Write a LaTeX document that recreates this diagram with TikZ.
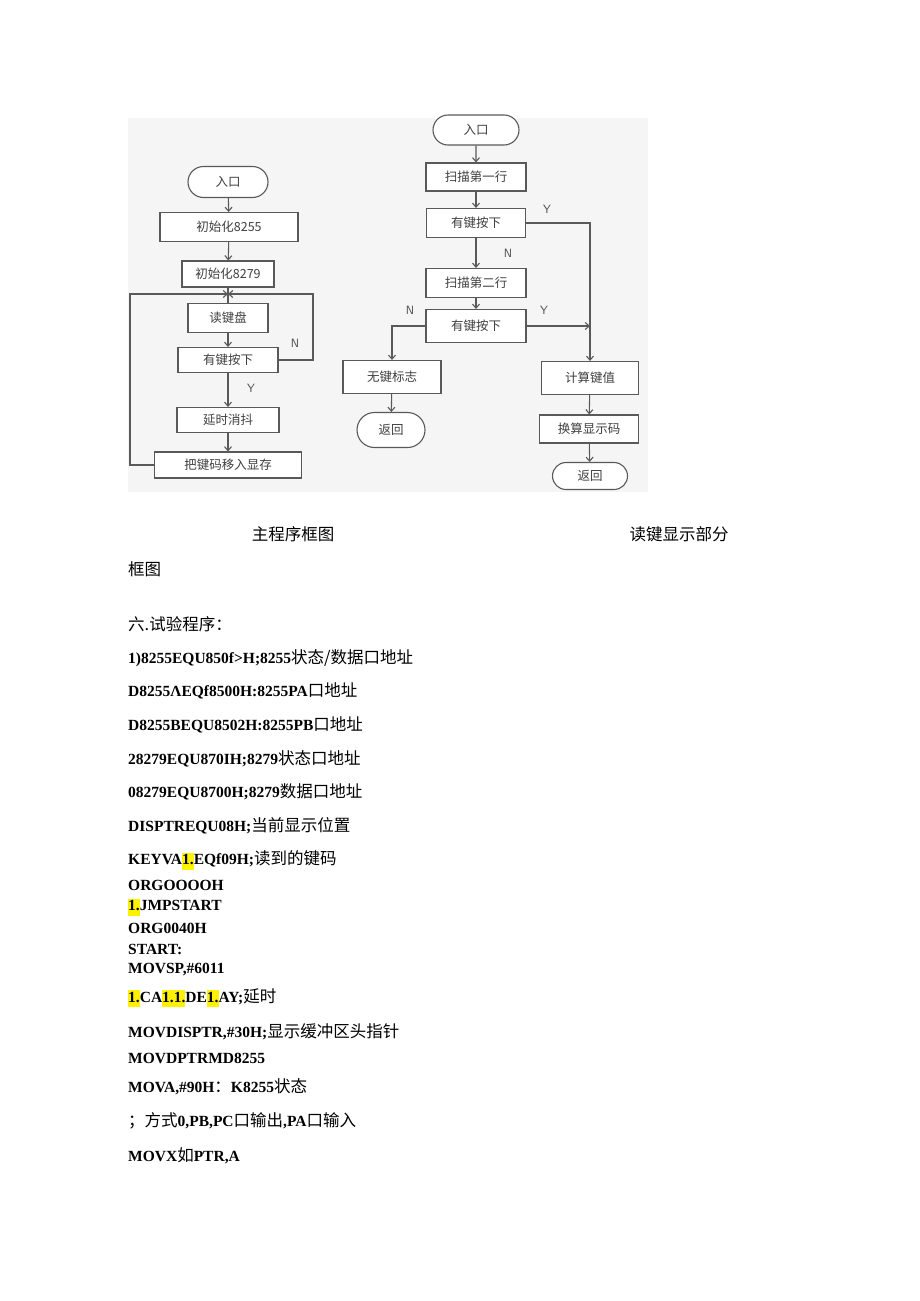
\documentclass[tikz,border=0pt]{standalone}
\usepackage{fontspec}
\setmainfont{Liberation Serif}
\newfontfamily\cjk{Noto Sans CJK SC}
\usetikzlibrary{arrows.meta,shapes.misc}
\newcommand{\hl}[1]{{\setlength{\fboxsep}{0pt}\colorbox{yellow}{\strut #1}}}
\newcommand{\zh}[1]{{\cjk\mdseries\fontsize{16.5}{18}\selectfont #1}}
\begin{document}
\begin{tikzpicture}[x=1pt,y=-1pt,
  fl/.style={draw=black!65,line width=1.1pt,fill=white,font=\cjk\fontsize{12.5}{14}\selectfont,text=black!75,inner sep=0pt},
  term/.style={fl,rounded rectangle},
  ln/.style={draw=black!65,line width=1.1pt},
  ar/.style={ln,-{Straight Barb[length=4pt,width=7pt]}},
  lab/.style={font=\sffamily\fontsize{12}{14}\selectfont,text=black!70},
  tx/.style={anchor=west,inner sep=0pt,font=\bfseries\fontsize{15.5}{17}\selectfont},
  captxt/.style={anchor=base,inner sep=0pt,font=\cjk\fontsize{16.5}{18}\selectfont}]
\useasboundingbox (0,0) rectangle (920,1301);
\fill[black!4] (128,118) rectangle (648,492);
% left chart
\node[term,minimum width=80pt,minimum height=31pt] (l0) at (228,182) {入口};
\node[fl,minimum width=138pt,minimum height=29pt] (l1) at (229,227) {初始化8255};
\node[fl,minimum width=92pt,minimum height=26pt] (l2) at (228,274) {初始化8279};
\coordinate (lt) at (228,294);
\node[fl,minimum width=80pt,minimum height=29pt] (l3) at (228,318) {读键盘};
\node[fl,minimum width=100pt,minimum height=25pt] (l4) at (228,360) {有键按下};
\node[fl,minimum width=102pt,minimum height=25pt] (l5) at (228,420) {延时消抖};
\node[fl,minimum width=147pt,minimum height=26pt] (l6) at (228,465) {把键码移入显存};
\draw[ar] (l0) -- (l1);
\draw[ar] (l1) -- (l2);
\draw[ln] (l2) -- (l3);
\draw[ar] (l3) -- (l4);
\draw[ar] (l4) -- (l5);
\draw[ar] (l5) -- (l6);
\draw[ar] (l4.east) -| (313,294) -- (lt);
\draw[ar] (l6.west) -| (130,294) -- (lt);
\node[lab] at (295,343) {N};
\node[lab] at (251,388) {Y};
% right chart
\node[term,minimum width=86pt,minimum height=30pt] (r0) at (476,130) {入口};
\node[fl,minimum width=100pt,minimum height=28pt] (r1) at (476,177) {扫描第一行};
\node[fl,minimum width=99pt,minimum height=29pt] (r2) at (476,223) {有键按下};
\node[fl,minimum width=100pt,minimum height=29pt] (r3) at (476,283) {扫描第二行};
\node[fl,minimum width=100pt,minimum height=33pt] (r4) at (476,326) {有键按下};
\node[fl,minimum width=98pt,minimum height=33pt] (r5) at (392,377) {无键标志};
\node[term,minimum width=68pt,minimum height=35pt] (r6) at (391,430) {返回};
\node[fl,minimum width=97pt,minimum height=33pt] (r7) at (590,378) {计算键值};
\node[fl,minimum width=99pt,minimum height=28pt] (r8) at (589,429) {换算显示码};
\node[term,minimum width=75pt,minimum height=27pt] (r9) at (590,476) {返回};
\draw[ar] (r0) -- (r1);
\draw[ar] (r1) -- (r2);
\draw[ar] (r2) -- (r3);
\draw[ar] (r3) -- (r4);
\draw[ar] (r4.west) -| (r5.north);
\draw[ar] (r5) -- (r6);
\draw[ar] (r2.east) -| (r7.north);
\draw[ar] (r4.east) -- (r4.east -| r7.north);
\draw[ar] (r7) -- (r8);
\draw[ar] (r8) -- (r9);
\node[lab] at (547,209) {Y};
\node[lab] at (508,253) {N};
\node[lab] at (544,310) {Y};
\node[lab] at (410,310) {N};
% captions
\node[captxt] (c1) at (293,540) {主程序框图};
\node[captxt] (c2) at (679,540) {读键显示部分};
\node[captxt,anchor=base west] (c3) at (128,575) {框图};
\node[captxt,anchor=base west] (c4) at (128,630) {六.试验程序：};
% code
\node[tx] (t1) at (128,658) {1)8255EQU850f>H;8255\zh{状态/数据口地址}};
\node[tx] (t2) at (128,691) {D8255ΛEQf8500H:8255PA\zh{口地址}};
\node[tx] (t3) at (128,725) {D8255BEQU8502H:8255PB\zh{口地址}};
\node[tx] (t4) at (128,759) {28279EQU870IH;8279\zh{状态口地址}};
\node[tx] (t5) at (128,792) {08279EQU8700H;8279\zh{数据口地址}};
\node[tx] (t6) at (128,826) {DISPTREQU08H;\zh{当前显示位置}};
\node[tx] (t7) at (128,860) {KEYVA\hl{1.}EQf09H;\zh{读到的键码}};
\node[tx] (t8) at (128,885) {ORGOOOOH};
\node[tx] (t9) at (128,907) {\hl{1.}JMPSTART};
\node[tx] (t10) at (128,928) {ORG0040H};
\node[tx] (t11) at (128,949) {START:};
\node[tx] (t12) at (128,970) {MOVSP,\#6011};
\node[tx] (t13) at (128,998) {\hl{1.}CA\hl{1.1.}DE\hl{1.}AY;\zh{延时}};
\node[tx] (t14) at (128,1032) {MOVDISPTR,\#30H;\zh{显示缓冲区头指针}};
\node[tx] (t15) at (128,1058) {MOVDPTRMD8255};
\node[tx] (t16) at (128,1087) {MOVA,\#90H\zh{：}K8255\zh{状态}};
\node[tx] (t17) at (128,1121) {\zh{；方式}0,PB,PC\zh{口输出},PA\zh{口输入}};
\node[tx] (t18) at (128,1156) {MOVX\zh{如}PTR,A};
\end{tikzpicture}
\end{document}
